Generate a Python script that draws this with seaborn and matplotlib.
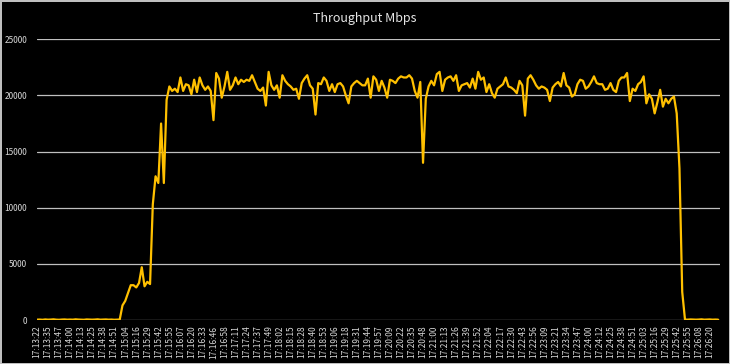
import numpy as np
import pandas as pd
import seaborn as sns
import matplotlib
matplotlib.use("Agg")
import matplotlib.pyplot as plt

# time labels shown on the category axis (one label every 4 samples)
time_labels = ['17:13:22', '17:13:35', '17:13:47', '17:14:00', '17:14:13', '17:14:25', '17:14:38',
               '17:14:51', '17:15:04', '17:15:16', '17:15:29', '17:15:42', '17:15:55', '17:16:07',
               '17:16:20', '17:16:33', '17:16:46', '17:16:58', '17:17:11', '17:17:24', '17:17:37',
               '17:17:49', '17:18:02', '17:18:15', '17:18:28', '17:18:40', '17:18:53', '17:19:06',
               '17:19:18', '17:19:31', '17:19:44', '17:19:57', '17:20:09', '17:20:22', '17:20:35',
               '17:20:48', '17:21:00', '17:21:13', '17:21:26', '17:21:39', '17:21:52', '17:22:04',
               '17:22:17', '17:22:30', '17:22:43', '17:22:56', '17:23:09', '17:23:21', '17:23:34',
               '17:23:47', '17:24:00', '17:24:12', '17:24:25', '17:24:38', '17:24:51', '17:25:03',
               '17:25:16', '17:25:29', '17:25:42', '17:25:55', '17:26:08', '17:26:20']

# throughput (Mbps)
throughput = [
    30, 40, 20, 50, 30, 40, 60, 30, 20, 40,
    50, 30, 40, 30, 60, 40, 30, 20, 50, 40,
    30, 40, 60, 30, 40, 50, 30, 40, 20, 30,
    40, 1300, 1700, 2400, 3100, 3100, 2900, 3300, 4700, 3000,
    3400, 3200, 10300, 12800, 12200, 17500, 12200, 19600, 20800, 20400,
    20600, 20300, 21600, 20400, 21000, 20900, 20100, 21400, 20300, 21600,
    20900, 20500, 20800, 20400, 17800, 22000, 21500, 19800, 20800, 22100,
    20500, 20900, 21600, 21000, 21400, 21200, 21400, 21300, 21800, 21200,
    20600, 20400, 20700, 19100, 22100, 20900, 20500, 20900, 19800, 21800,
    21300, 21000, 20800, 20500, 20600, 19700, 21100, 21500, 21800, 20900,
    20600, 18300, 21100, 21000, 21600, 21300, 20400, 21000, 20300, 21000,
    21100, 20800, 20000, 19300, 20800, 21100, 21300, 21100, 20900, 20900,
    21500, 19800, 21700, 21400, 20400, 21300, 20700, 19800, 21400, 21300,
    21100, 21500, 21700, 21600, 21600, 21800, 21500, 20400, 19800, 21200,
    14000, 19700, 20800, 21300, 20900, 21900, 22100, 20400, 21400, 21600,
    21700, 21300, 21800, 20400, 20900, 21000, 21100, 20700, 21500, 20600,
    22100, 21400, 21600, 20300, 21000, 20200, 19800, 20600, 20800, 21000,
    21600, 20800, 20700, 20500, 20200, 21300, 20900, 18200, 21500, 21800,
    21400, 20900, 20600, 20800, 20700, 20500, 19500, 20700, 21000, 21200,
    20800, 22000, 20900, 20700, 19900, 20100, 21000, 21400, 21300, 20600,
    20800, 21200, 21700, 21100, 21000, 21000, 20500, 20600, 21100, 20500,
    20300, 21300, 21600, 21600, 22000, 19500, 20600, 20400, 21000, 21200,
    21700, 19300, 20100, 19700, 18400, 19400, 20500, 19000, 19700, 19300,
    19700, 19900, 18400, 13500, 2500, 40, 30, 50, 40, 30,
    40, 60, 30, 40, 50, 30, 40, 30,
]

df = pd.DataFrame({'sample': np.arange(len(throughput)), 'mbps': throughput})

sns.set_style('dark')
plt.rcParams['font.family'] = ['Noto Sans CJK JP', 'DejaVu Sans']

fig = plt.figure(figsize=(7.3, 3.64), dpi=100, facecolor='black',
                 edgecolor='#bfbfbf', linewidth=1)
ax = fig.add_axes([37 / 730, 1 - 320 / 364, (720 - 37) / 730, (320 - 39.3) / 364])
ax.set_facecolor('black')

sns.lineplot(data=df, x='sample', y='mbps', ax=ax, color='#FFC000', linewidth=1.6)

ax.set_ylim(0, 25000)
ax.set_yticks(range(0, 25001, 5000))
ax.set_xlim(0, len(throughput) - 0.3)
ax.set_xticks(np.arange(0, 4 * len(time_labels), 4))
ax.set_xticklabels(time_labels, rotation=90)

ax.grid(axis='y', color='#bfbfbf', linewidth=0.9)
ax.grid(axis='x', visible=False)
ax.set_axisbelow(True)
for s in ax.spines.values():
    s.set_visible(False)
ax.tick_params(axis='both', length=0, colors='#d9d9d9', labelsize=6)
ax.tick_params(axis='y', pad=7)
ax.tick_params(axis='x', pad=4)
ax.set_xlabel('')
ax.set_ylabel('')

fig.text(0.5, 0.95, 'Throughput Mbps', color='#e6e6e6', fontsize=9, ha='center', va='center')

fig.savefig('out.png', dpi=100, facecolor='black', edgecolor='#bfbfbf')
